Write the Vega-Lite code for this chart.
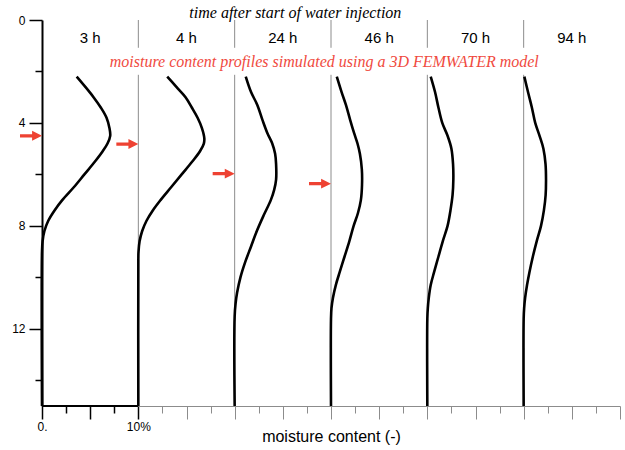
{
  "$schema": "https://vega.github.io/schema/vega-lite/v6.json",
  "width": 578,
  "height": 386,
  "autosize": {"type": "none"},
  "padding": {"left": 42, "top": 20, "right": 5, "bottom": 44},
  "background": "white",
  "config": {"view": {"stroke": null}, "font": "Liberation Sans"},
  "resolve": {"axis": {"x": "independent", "y": "independent"}},
  "datasets": {
    "profiles": [
      {"time": "3 h", "depth": 2.2, "moisture": 3.6}, {"time": "3 h", "depth": 2.6, "moisture": 4.5}, {"time": "3 h", "depth": 3.0, "moisture": 5.35}, {"time": "3 h", "depth": 3.4, "moisture": 6.1}, {"time": "3 h", "depth": 3.8, "moisture": 6.7}, {"time": "3 h", "depth": 4.2, "moisture": 7.0}, {"time": "3 h", "depth": 4.5, "moisture": 7.08}, {"time": "3 h", "depth": 4.8, "moisture": 6.8}, {"time": "3 h", "depth": 5.1, "moisture": 6.3}, {"time": "3 h", "depth": 5.5, "moisture": 5.5}, {"time": "3 h", "depth": 6.0, "moisture": 4.4}, {"time": "3 h", "depth": 6.5, "moisture": 3.3}, {"time": "3 h", "depth": 7.0, "moisture": 2.1}, {"time": "3 h", "depth": 7.4, "moisture": 1.3}, {"time": "3 h", "depth": 7.8, "moisture": 0.65}, {"time": "3 h", "depth": 8.2, "moisture": 0.25}, {"time": "3 h", "depth": 8.6, "moisture": 0.06}, {"time": "3 h", "depth": 9.0, "moisture": 0}, {"time": "3 h", "depth": 15, "moisture": 0},
      {"time": "4 h", "depth": 2.2, "moisture": 13.0}, {"time": "4 h", "depth": 2.6, "moisture": 13.95}, {"time": "4 h", "depth": 3.0, "moisture": 14.9}, {"time": "4 h", "depth": 3.4, "moisture": 15.55}, {"time": "4 h", "depth": 3.8, "moisture": 16.15}, {"time": "4 h", "depth": 4.2, "moisture": 16.6}, {"time": "4 h", "depth": 4.6, "moisture": 16.85}, {"time": "4 h", "depth": 4.8, "moisture": 16.8}, {"time": "4 h", "depth": 5.1, "moisture": 16.4}, {"time": "4 h", "depth": 5.5, "moisture": 15.6}, {"time": "4 h", "depth": 6.0, "moisture": 14.5}, {"time": "4 h", "depth": 6.5, "moisture": 13.4}, {"time": "4 h", "depth": 7.0, "moisture": 12.3}, {"time": "4 h", "depth": 7.4, "moisture": 11.5}, {"time": "4 h", "depth": 7.8, "moisture": 10.85}, {"time": "4 h", "depth": 8.2, "moisture": 10.4}, {"time": "4 h", "depth": 8.6, "moisture": 10.13}, {"time": "4 h", "depth": 9.0, "moisture": 10.02}, {"time": "4 h", "depth": 9.3, "moisture": 10}, {"time": "4 h", "depth": 15, "moisture": 10},
      {"time": "24 h", "depth": 2.2, "moisture": 21.15}, {"time": "24 h", "depth": 2.8, "moisture": 21.7}, {"time": "24 h", "depth": 3.3, "moisture": 22.35}, {"time": "24 h", "depth": 3.9, "moisture": 22.9}, {"time": "24 h", "depth": 4.4, "moisture": 23.4}, {"time": "24 h", "depth": 4.8, "moisture": 23.9}, {"time": "24 h", "depth": 5.2, "moisture": 24.2}, {"time": "24 h", "depth": 5.6, "moisture": 24.3}, {"time": "24 h", "depth": 6.2, "moisture": 24.3}, {"time": "24 h", "depth": 6.6, "moisture": 24.1}, {"time": "24 h", "depth": 7.0, "moisture": 23.75}, {"time": "24 h", "depth": 7.6, "moisture": 23.0}, {"time": "24 h", "depth": 8.2, "moisture": 22.3}, {"time": "24 h", "depth": 8.8, "moisture": 21.7}, {"time": "24 h", "depth": 9.4, "moisture": 21.1}, {"time": "24 h", "depth": 10.0, "moisture": 20.6}, {"time": "24 h", "depth": 10.6, "moisture": 20.25}, {"time": "24 h", "depth": 11.0, "moisture": 20.1}, {"time": "24 h", "depth": 11.5, "moisture": 20}, {"time": "24 h", "depth": 15, "moisture": 20},
      {"time": "46 h", "depth": 2.2, "moisture": 30.6}, {"time": "46 h", "depth": 2.8, "moisture": 31.1}, {"time": "46 h", "depth": 3.3, "moisture": 31.55}, {"time": "46 h", "depth": 3.9, "moisture": 32.0}, {"time": "46 h", "depth": 4.4, "moisture": 32.4}, {"time": "46 h", "depth": 4.8, "moisture": 32.75}, {"time": "46 h", "depth": 5.2, "moisture": 33.0}, {"time": "46 h", "depth": 5.8, "moisture": 33.2}, {"time": "46 h", "depth": 6.4, "moisture": 33.22}, {"time": "46 h", "depth": 7.0, "moisture": 33.1}, {"time": "46 h", "depth": 7.5, "moisture": 32.8}, {"time": "46 h", "depth": 8.0, "moisture": 32.35}, {"time": "46 h", "depth": 8.6, "moisture": 31.9}, {"time": "46 h", "depth": 9.2, "moisture": 31.4}, {"time": "46 h", "depth": 9.8, "moisture": 30.9}, {"time": "46 h", "depth": 10.3, "moisture": 30.5}, {"time": "46 h", "depth": 10.8, "moisture": 30.2}, {"time": "46 h", "depth": 11.2, "moisture": 30.05}, {"time": "46 h", "depth": 11.6, "moisture": 30}, {"time": "46 h", "depth": 15, "moisture": 30},
      {"time": "70 h", "depth": 2.2, "moisture": 40.35}, {"time": "70 h", "depth": 2.8, "moisture": 40.8}, {"time": "70 h", "depth": 3.4, "moisture": 41.15}, {"time": "70 h", "depth": 4.0, "moisture": 41.55}, {"time": "70 h", "depth": 4.5, "moisture": 42.1}, {"time": "70 h", "depth": 5.0, "moisture": 42.5}, {"time": "70 h", "depth": 5.6, "moisture": 42.67}, {"time": "70 h", "depth": 6.2, "moisture": 42.7}, {"time": "70 h", "depth": 6.8, "moisture": 42.62}, {"time": "70 h", "depth": 7.4, "moisture": 42.4}, {"time": "70 h", "depth": 8.0, "moisture": 42.1}, {"time": "70 h", "depth": 8.6, "moisture": 41.6}, {"time": "70 h", "depth": 9.2, "moisture": 41.15}, {"time": "70 h", "depth": 9.8, "moisture": 40.7}, {"time": "70 h", "depth": 10.3, "moisture": 40.35}, {"time": "70 h", "depth": 10.8, "moisture": 40.15}, {"time": "70 h", "depth": 11.2, "moisture": 40.05}, {"time": "70 h", "depth": 11.6, "moisture": 40}, {"time": "70 h", "depth": 15, "moisture": 40},
      {"time": "94 h", "depth": 2.2, "moisture": 50.07}, {"time": "94 h", "depth": 2.8, "moisture": 50.45}, {"time": "94 h", "depth": 3.4, "moisture": 50.85}, {"time": "94 h", "depth": 4.0, "moisture": 51.2}, {"time": "94 h", "depth": 4.5, "moisture": 51.65}, {"time": "94 h", "depth": 5.0, "moisture": 52.05}, {"time": "94 h", "depth": 5.6, "moisture": 52.27}, {"time": "94 h", "depth": 6.2, "moisture": 52.32}, {"time": "94 h", "depth": 6.8, "moisture": 52.28}, {"time": "94 h", "depth": 7.4, "moisture": 52.1}, {"time": "94 h", "depth": 8.0, "moisture": 51.8}, {"time": "94 h", "depth": 8.6, "moisture": 51.35}, {"time": "94 h", "depth": 9.2, "moisture": 50.95}, {"time": "94 h", "depth": 9.8, "moisture": 50.6}, {"time": "94 h", "depth": 10.3, "moisture": 50.35}, {"time": "94 h", "depth": 10.8, "moisture": 50.15}, {"time": "94 h", "depth": 11.2, "moisture": 50.05}, {"time": "94 h", "depth": 11.6, "moisture": 50}, {"time": "94 h", "depth": 15, "moisture": 50}
    ],
    "guides": [
      {"moisture": 10, "top": 0, "bottom": 1.08}, {"moisture": 10, "top": 2.13, "bottom": 15},
      {"moisture": 20, "top": 0, "bottom": 1.08}, {"moisture": 20, "top": 2.13, "bottom": 15},
      {"moisture": 30, "top": 0, "bottom": 1.08}, {"moisture": 30, "top": 2.13, "bottom": 15},
      {"moisture": 40, "top": 0, "bottom": 1.08}, {"moisture": 40, "top": 2.13, "bottom": 15},
      {"moisture": 50, "top": 0, "bottom": 1.08}, {"moisture": 50, "top": 2.13, "bottom": 15}
    ],
    "arrows": [
      {"time": "3 h", "moisture": 0, "depth": 4.5},
      {"time": "4 h", "moisture": 10, "depth": 4.82},
      {"time": "24 h", "moisture": 20, "depth": 5.97},
      {"time": "46 h", "moisture": 30, "depth": 6.36}
    ],
    "labels": [
      {"label": "3 h", "moisture": 5, "depth": 0.91},
      {"label": "4 h", "moisture": 15, "depth": 0.91},
      {"label": "24 h", "moisture": 25, "depth": 0.91},
      {"label": "46 h", "moisture": 35, "depth": 0.91},
      {"label": "70 h", "moisture": 45, "depth": 0.91},
      {"label": "94 h", "moisture": 55, "depth": 0.91}
    ],
    "notes": [
      {"text": "time after start of water injection", "kind": "title", "moisture": 26.3, "depth": -0.07},
      {"text": "moisture content profiles simulated using a 3D FEMWATER model", "kind": "subtitle", "moisture": 29.3, "depth": 1.81}
    ]
  },
  "layer": [
    {
      "data": {"name": "guides"},
      "mark": {"type": "rule", "color": "#8c8c8c", "strokeWidth": 1},
      "encoding": {
        "x": {"field": "moisture", "type": "quantitative", "axis": null},
        "y": {"field": "top", "type": "quantitative", "axis": null},
        "y2": {"field": "bottom"}
      }
    },
    {
      "data": {"name": "profiles"},
      "mark": {"type": "line", "color": "black", "strokeWidth": 2.6, "interpolate": "catmull-rom"},
      "encoding": {
        "x": {
          "field": "moisture", "type": "quantitative",
          "scale": {"domain": [0, 60], "nice": false, "zero": false},
          "axis": {
            "orient": "bottom",
            "values": [0, 5, 10, 15, 20, 25, 30, 35, 40, 45, 50, 55, 60],
            "labelExpr": "datum.value === 0 ? '0.' : (datum.value === 10 ? '10%' : '')",
            "grid": false,
            "domainColor": "#8c8c8c",
            "domainWidth": 1,
            "tickSize": 13,
            "tickColor": {"condition": {"test": "datum.value <= 10", "value": "black"}, "value": "#8c8c8c"},
            "tickWidth": {"condition": {"test": "datum.value <= 10", "value": 1.5}, "value": 1},
            "labelFont": "Liberation Sans",
            "labelFontSize": 12,
            "labelColor": "black",
            "labelPadding": 2,
            "labelFlush": false,
            "labelOverlap": false,
            "title": "moisture content (-)",
            "titleFont": "Liberation Sans",
            "titleFontSize": 16,
            "titleFontWeight": "normal",
            "titleColor": "black",
            "titlePadding": -4
          }
        },
        "y": {
          "field": "depth", "type": "quantitative",
          "scale": {"domain": [0, 15], "reverse": true, "nice": false, "zero": false},
          "axis": {
            "orient": "left",
            "values": [0, 4, 8, 12],
            "grid": false,
            "domainColor": "black",
            "domainWidth": 2,
            "tickColor": "black",
            "tickWidth": 1.5,
            "tickSize": 13,
            "labelFont": "Liberation Sans",
            "labelFontSize": 12,
            "labelColor": "black",
            "labelPadding": 4,
            "labelOverlap": false,
            "title": null
          }
        },
        "detail": {"field": "time"},
        "order": {"field": "depth", "type": "quantitative"}
      }
    },
    {
      "data": {"values": [{"start": 0, "end": 10, "depth": 15}]},
      "mark": {"type": "rule", "color": "black", "strokeWidth": 2},
      "encoding": {
        "x": {
          "field": "start", "type": "quantitative",
          "axis": {
            "orient": "bottom",
            "values": [2.5, 7.5, 12.5, 17.5, 22.5, 27.5, 32.5, 37.5, 42.5, 47.5, 52.5, 57.5],
            "labels": false, "domain": false, "grid": false, "title": null,
            "tickSize": 7,
            "tickColor": {"condition": {"test": "datum.value <= 10", "value": "black"}, "value": "#8c8c8c"},
            "tickWidth": {"condition": {"test": "datum.value <= 10", "value": 1.5}, "value": 1}
          }
        },
        "x2": {"field": "end"},
        "y": {
          "field": "depth", "type": "quantitative",
          "axis": {
            "orient": "left",
            "values": [2, 6, 10, 14],
            "labels": false, "domain": false, "grid": false, "title": null,
            "tickSize": 7, "tickColor": "black", "tickWidth": 1.5
          }
        }
      }
    },
    {
      "data": {"name": "arrows"},
      "mark": {"type": "point", "filled": true, "color": "#ee4232", "opacity": 1, "strokeWidth": 0, "size": 484, "xOffset": -11, "shape": "M-1,-0.15L0.1,-0.15L0.1,-0.45L1,0L0.1,0.45L0.1,0.15L-1,0.15Z"},
      "encoding": {
        "x": {"field": "moisture", "type": "quantitative", "axis": null},
        "y": {"field": "depth", "type": "quantitative", "axis": null}
      }
    },
    {
      "data": {"name": "labels"},
      "mark": {"type": "text", "font": "Liberation Sans", "fontSize": 15, "color": "black", "baseline": "alphabetic", "align": "center"},
      "encoding": {
        "x": {"field": "moisture", "type": "quantitative", "axis": null},
        "y": {"field": "depth", "type": "quantitative", "axis": null},
        "text": {"field": "label"}
      }
    },
    {
      "data": {"name": "notes"},
      "mark": {"type": "text", "font": "Liberation Serif", "fontStyle": "italic", "baseline": "alphabetic", "align": "center"},
      "encoding": {
        "x": {"field": "moisture", "type": "quantitative", "axis": null},
        "y": {"field": "depth", "type": "quantitative", "axis": null},
        "text": {"field": "text"},
        "color": {"field": "kind", "type": "nominal", "scale": {"domain": ["title", "subtitle"], "range": ["black", "#f04a3e"]}, "legend": null},
        "size": {"field": "kind", "type": "nominal", "scale": {"domain": ["title", "subtitle"], "range": [16, 16]}, "legend": null}
      }
    }
  ]
}
